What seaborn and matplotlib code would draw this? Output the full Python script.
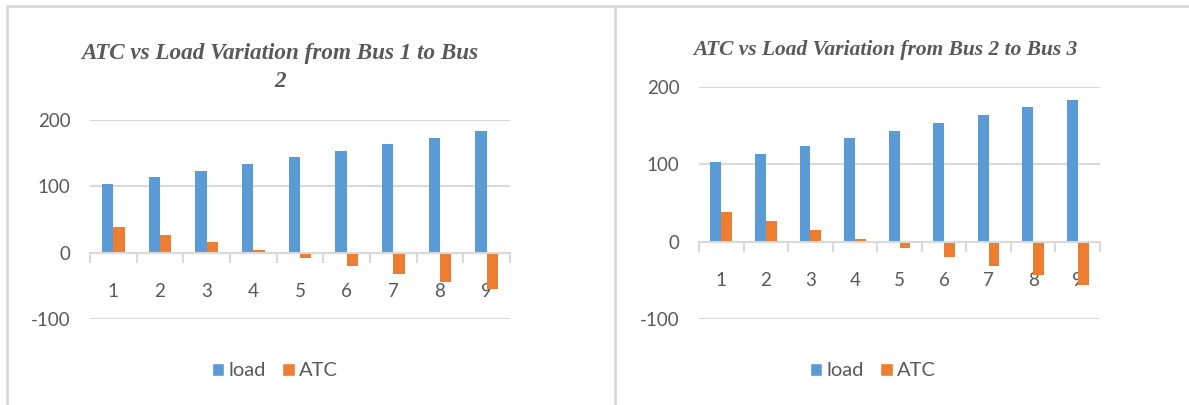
import matplotlib
matplotlib.use("Agg")
import matplotlib.pyplot as plt
import seaborn as sns
import pandas as pd
from matplotlib.lines import Line2D
from matplotlib.patches import Patch

# ---- data ----
categories = ["1", "2", "3", "4", "5", "6", "7", "8", "9"]
load_bus12 = [103.5, 113.5, 123.5, 133.5, 143.5, 153.5, 163.5, 173.5, 183.5]
atc_bus12 = [38.5, 27.0, 15.5, 3.5, -8.0, -19.5, -31.5, -43.5, -55.5]
load_bus23 = [103.5, 113.5, 123.5, 133.5, 143.5, 153.5, 163.5, 173.5, 183.5]
atc_bus23 = [38.5, 27.0, 15.5, 3.5, -8.0, -19.5, -31.5, -43.5, -55.5]
series_names = ["load", "ATC"]
y_ticks = [-100, 0, 100, 200]
titles = ["ATC vs Load Variation from Bus 1 to Bus\n2",
          "ATC vs Load Variation from Bus 2 to Bus 3"]

BLUE = "#5B9BD5"
ORANGE = "#ED7D31"
GRID = "#D9D9D9"
TXT = "#595959"
SANS = ["Lato", "DejaVu Sans"]

sns.set_theme(style="white")
plt.rcParams["font.family"] = SANS

W, H = 1189, 405
fig = plt.figure(figsize=(W / 100, H / 100), dpi=100)

def frac_box(x0, x1, ytop, ybot):
    return [x0 / W, 1 - ybot / H, (x1 - x0) / W, (ybot - ytop) / H]

def make_df(load, atc):
    return pd.DataFrame({
        "cat": categories * 2,
        "value": list(load) + list(atc),
        "series": [series_names[0]] * len(categories) + [series_names[1]] * len(categories),
    })

panels = [
    dict(box=frac_box(90, 510, 120, 319), df=make_df(load_bus12, atc_bus12),
         title=titles[0], tx=280, ty=87, tsize=16.7, lx=275, fs=13.5),
    dict(box=frac_box(699, 1100, 87, 319), df=make_df(load_bus23, atc_bus23),
         title=titles[1], tx=885, ty=55, tsize=15.4, lx=873, fs=13.5),
]

for p in panels:
    ax = fig.add_axes(p["box"])
    sns.barplot(data=p["df"], x="cat", y="value", hue="series",
                palette=[BLUE, ORANGE], saturation=1, width=0.486,
                order=categories, hue_order=series_names,
                ax=ax, legend=False, linewidth=0)
    ax.set_xlim(-0.5, len(categories) - 0.5)
    ax.set_ylim(min(y_ticks), max(y_ticks))
    ax.set_xlabel("")
    ax.set_ylabel("")
    for s in ["top", "right", "left"]:
        ax.spines[s].set_visible(False)
    ax.spines["bottom"].set_position(("data", 0))
    ax.spines["bottom"].set_color(GRID)
    ax.spines["bottom"].set_linewidth(1.5)
    ax.spines["bottom"].set_zorder(3)
    ax.set_yticks(y_ticks)
    ax.set_yticklabels([str(v) for v in y_ticks])
    ax.yaxis.grid(True, color=GRID, linewidth=1.5)
    ax.set_axisbelow(True)
    ax.tick_params(axis="y", length=0, pad=14, labelsize=p["fs"], labelcolor=TXT)
    ax.set_xticks(range(len(categories)))
    ax.set_xticklabels(categories)
    ax.set_xticks([i - 0.5 for i in range(len(categories) + 1)], minor=True)
    ax.tick_params(axis="x", which="major", length=0, pad=22,
                   labelsize=p["fs"], labelcolor=TXT)
    ax.tick_params(axis="x", which="minor", length=7, width=1.5,
                   color=GRID, direction="out", bottom=True)
    fig.text(p["tx"] / W, 1 - p["ty"] / H, p["title"], ha="center", va="baseline",
             family=["Liberation Serif"], weight="bold", style="italic",
             fontsize=p["tsize"], color=TXT, linespacing=1.45)
    handles = [Patch(facecolor=BLUE), Patch(facecolor=ORANGE)]
    fig.legend(handles, series_names, loc="center", ncol=2,
               bbox_to_anchor=(p["lx"] / W, 1 - 371 / H), frameon=False,
               handlelength=0.62, handleheight=0.62, handletextpad=0.22,
               columnspacing=0.8, labelcolor=TXT, fontsize=14.5)

# chart frames
frame_kw = dict(color=GRID, linewidth=2, transform=fig.transFigure)
fig.add_artist(Line2D([7 / W, 1], [1 - 6 / H, 1 - 6 / H], **frame_kw))
fig.add_artist(Line2D([7 / W, 7 / W], [0, 1 - 6 / H], **frame_kw))
fig.add_artist(Line2D([615 / W, 615 / W], [0, 1 - 6 / H], **frame_kw))

fig.savefig("out.png", dpi=100)
